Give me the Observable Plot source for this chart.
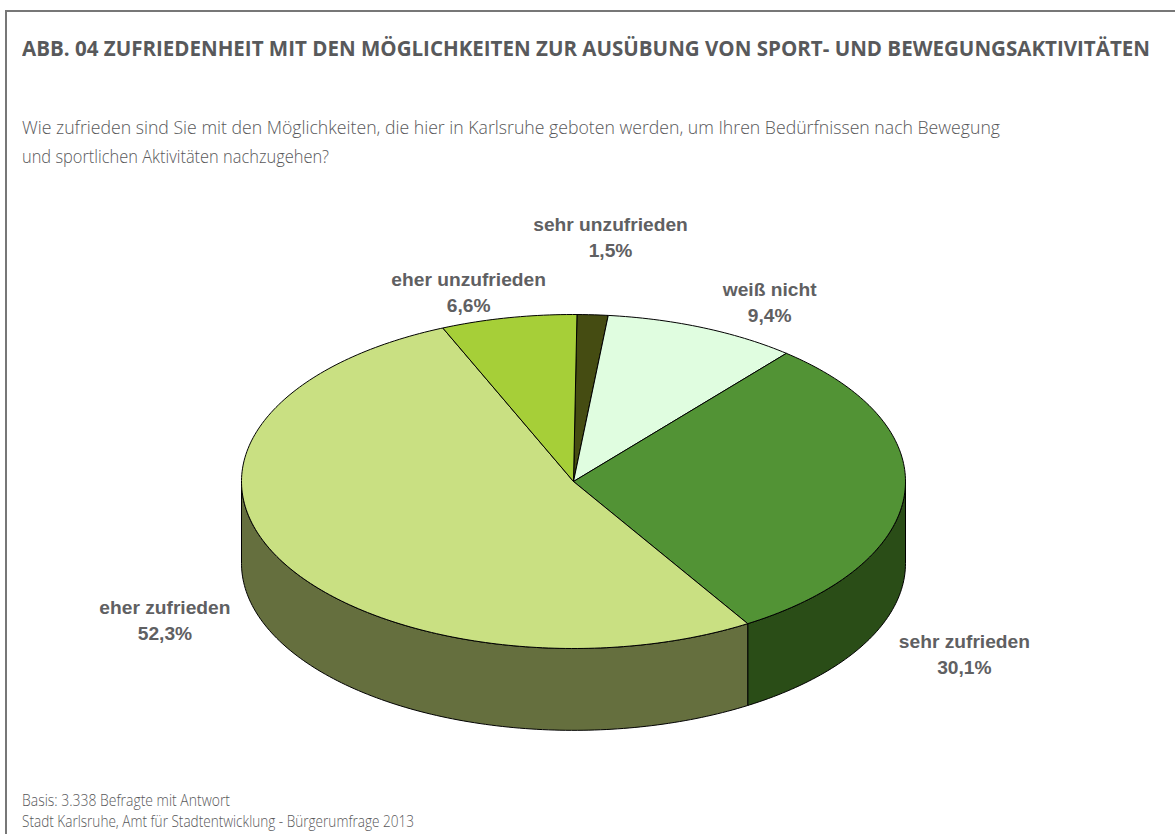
<!DOCTYPE html>
<html lang="de"><head><meta charset="utf-8">
<script src="https://cdn.jsdelivr.net/npm/d3@7"></script>
<script src="https://cdn.jsdelivr.net/npm/@observablehq/plot@0.6"></script>
<style>
html,body{margin:0;padding:0;background:#fff;}
#page{position:relative;width:1175px;height:834px;overflow:hidden;box-sizing:border-box;}
#frame{position:absolute;left:5px;top:10px;width:1175px;height:840px;border:2px solid #777;box-sizing:border-box;}
.t{position:absolute;left:22px;white-space:nowrap;transform-origin:0 0;color:#5f6062;font-family:"Open Sans",sans-serif;}
#title{top:36px;font-size:21px;font-weight:700;line-height:24px;color:#58595b;}
.sub{font-size:18.5px;font-weight:300;line-height:24px;color:#58585a;}
.foot{font-size:15.5px;font-weight:300;line-height:18px;color:#58585a;}
#chart{position:absolute;left:0;top:190px;}
</style></head><body>
<div id="page">
<div id="frame"></div>
<div id="title" class="t" data-w="1128">ABB. 04 ZUFRIEDENHEIT MIT DEN MÖGLICHKEITEN ZUR AUSÜBUNG VON SPORT- UND BEWEGUNGSAKTIVITÄTEN</div>
<div class="t sub" style="top:115px" data-w="978">Wie zufrieden sind Sie mit den Möglichkeiten, die hier in Karlsruhe geboten werden, um Ihren Bedürfnissen nach Bewegung</div>
<div class="t sub" style="top:144px" data-w="307">und sportlichen Aktivitäten nachzugehen?</div>
<div id="chart"></div>
<div class="t foot" style="top:791px" data-w="208">Basis: 3.338 Befragte mit Antwort</div>
<div class="t foot" style="top:812px" data-w="392">Stadt Karlsruhe, Amt für Stadtentwicklung - Bürgerumfrage 2013</div>
</div>
<script>
const categories = ["sehr unzufrieden","weiß nicht","sehr zufrieden","eher zufrieden","eher unzufrieden"];
const values = [1.5,9.4,30.1,52.3,6.6];
const valueLabels = ["1,5%","9,4%","30,1%","52,3%","6,6%"];
const topColors = ["#454c12","#e0fde0","#529335","#c9e082","#a6cf38"];
const sideColors = ["#454c12","#e0fde0","#2a4d17","#656f3e","#a6cf38"];
// label offset from the slice's rim point, in pie-radius units
const labelOffsetX = [0.054,0.201,0.18,-0.343,-0.12];
const labelOffsetY = [0.471,0.161,-0.952,-0.361,0.162];

const startAngle = 0.6, thickness = 0.49, step = 1;
const total = d3.sum(values);
const rad = a => a*Math.PI/180;
const px = a => Math.sin(rad(a));
const py = a => Math.cos(rad(a));
let acc = startAngle;
const slices = categories.map((name,i)=>{
  const a0 = acc, a1 = acc + values[i]/total*360; acc = a1;
  return {name,i,a0,a1,mid:(a0+a1)/2};
});
const arc = (a0,a1)=>{
  const r = d3.range(a0,a1,step); r.push(a1); return r;
};
const topPts = slices.flatMap(s=>{
  const pts = [[0,0],...arc(s.a0,s.a1).map(a=>[px(a),py(a)]),[0,0]];
  return pts.map(([x,y])=>({x,y,k:s.name,fill:topColors[s.i]}));
});
// front wall: the part of each slice's rim in the lower half of the pie
const sidePts = slices.flatMap(s=>{
  const a0 = Math.max(s.a0,90), a1 = Math.min(s.a1,270);
  if (a1<=a0) return [];
  const r = arc(a0,a1);
  const pts = [...r.map(a=>[px(a),py(a)]),...r.slice().reverse().map(a=>[px(a),py(a)-thickness]),[px(a0),py(a0)]];
  return pts.map(([x,y])=>({x,y,k:s.name,fill:sideColors[s.i]}));
});
const labels = slices.map(s=>({
  x:px(s.mid)+labelOffsetX[s.i],
  y:py(s.mid)+labelOffsetY[s.i],
  text:s.name+"\n"+valueLabels[s.i]
}));

const cx=573, cy=481-190, rx=332, ry=167;
const plot = Plot.plot({
  width:1175, height:600, margin:0,
  x:{type:"linear",domain:[-1,1],range:[cx-rx,cx+rx],axis:null},
  y:{type:"linear",domain:[-1,1],range:[cy+ry,cy-ry],axis:null},
  style:{background:"transparent",overflow:"visible"},
  marks:[
    Plot.line(sidePts,{x:"x",y:"y",z:"k",fill:"fill",stroke:"#000",strokeWidth:1,curve:"linear",strokeLinejoin:"round"}),
    Plot.line(topPts,{x:"x",y:"y",z:"k",fill:"fill",stroke:"#000",strokeWidth:1,curve:"linear",strokeLinejoin:"round"}),
    Plot.text(labels,{x:"x",y:"y",text:"text",lineHeight:1.35,fontSize:19.2,fontWeight:700,fontFamily:"Liberation Sans, Arial, sans-serif",fill:"#5f6062"})
  ]
});
document.getElementById("chart").appendChild(plot);
document.querySelectorAll(".t").forEach(el=>{
  const w = el.getBoundingClientRect().width;
  el.style.transform = `scaleX(${(+el.dataset.w)/w})`;
});
</script>
</body></html>
